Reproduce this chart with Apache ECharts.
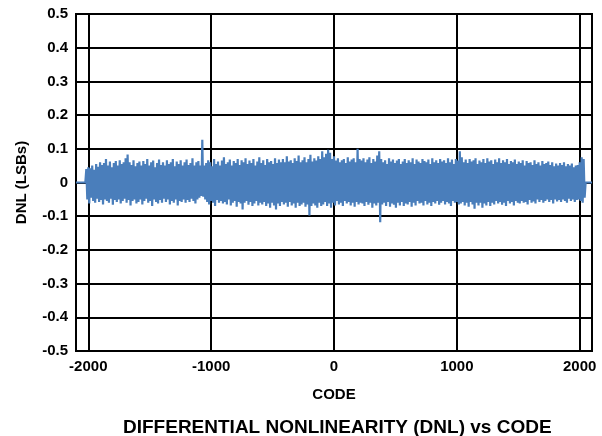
<!DOCTYPE html>
<html><head><meta charset="utf-8">
<script src="https://cdn.jsdelivr.net/npm/echarts@6/dist/echarts.min.js"></script>
<style>html,body{margin:0;padding:0;background:#fff}#c{width:602px;height:436px}</style>
</head><body><div id="c"></div>
<script>
// x tick labels (CODE)
const xTicks = [-2000, -1000, 0, 1000, 2000];
// DNL samples: alternating local maxima / minima along the code axis
const codeStart = -2016;
const codeStep = 16;
const dnlUpper = [
0.04,0.045,0.042,0.05,0.038,0.055,0.047,0.06,0.052,0.058,
0.07,0.05,0.062,0.045,0.058,0.064,0.05,0.066,0.055,0.06,
0.072,0.083,0.06,0.052,0.066,0.048,0.058,0.062,0.05,0.064,
0.055,0.07,0.05,0.06,0.065,0.045,0.058,0.068,0.052,0.06,
0.05,0.066,0.055,0.06,0.07,0.048,0.062,0.055,0.066,0.05,
0.06,0.068,0.052,0.058,0.072,0.05,0.06,0.064,0.05,0.127,
0.05,0.058,0.066,0.06,0.048,0.07,0.055,0.062,0.05,0.065,
0.075,0.055,0.06,0.068,0.05,0.064,0.058,0.07,0.052,0.066,
0.06,0.072,0.055,0.065,0.058,0.07,0.05,0.062,0.075,0.058,
0.066,0.052,0.07,0.06,0.064,0.055,0.072,0.058,0.068,0.06,
0.07,0.06,0.078,0.062,0.066,0.058,0.072,0.064,0.08,0.06,
0.066,0.075,0.06,0.07,0.082,0.062,0.072,0.065,0.078,0.07,
0.093,0.075,0.085,0.097,0.088,0.07,0.078,0.065,0.072,0.06,
0.066,0.07,0.058,0.075,0.062,0.068,0.072,0.06,0.1,0.07,
0.065,0.072,0.06,0.068,0.075,0.058,0.07,0.062,0.08,0.093,
0.07,0.06,0.066,0.055,0.072,0.062,0.068,0.058,0.065,0.07,
0.055,0.062,0.07,0.058,0.066,0.06,0.072,0.055,0.068,0.062,
0.058,0.07,0.064,0.06,0.068,0.055,0.072,0.06,0.066,0.058,
0.07,0.062,0.066,0.058,0.072,0.06,0.068,0.055,0.07,0.065,
0.093,0.075,0.06,0.068,0.058,0.07,0.062,0.066,0.072,0.055,
0.065,0.06,0.07,0.058,0.072,0.062,0.066,0.055,0.068,0.06,
0.072,0.058,0.066,0.06,0.07,0.055,0.064,0.06,0.068,0.055,
0.062,0.058,0.066,0.05,0.064,0.058,0.06,0.052,0.066,0.055,
0.06,0.05,0.064,0.055,0.058,0.062,0.052,0.06,0.048,0.056,
0.05,0.058,0.052,0.06,0.048,0.055,0.05,0.056,0.045,0.05,0.052,0.06,0.075,0.07
];
const dnlLower = [
-0.05,-0.062,-0.045,-0.055,-0.06,-0.048,-0.058,-0.052,-0.065,-0.05,
-0.055,-0.06,-0.048,-0.066,-0.052,-0.058,-0.05,-0.062,-0.055,-0.048,
-0.06,-0.052,-0.068,-0.055,-0.05,-0.062,-0.058,-0.05,-0.065,-0.055,
-0.048,-0.06,-0.055,-0.07,-0.05,-0.058,-0.062,-0.052,-0.06,-0.048,
-0.058,-0.05,-0.065,-0.055,-0.06,-0.05,-0.068,-0.055,-0.058,-0.05,
-0.06,-0.052,-0.058,-0.048,-0.055,-0.062,-0.05,-0.045,-0.04,-0.042,
-0.05,-0.058,-0.065,-0.055,-0.06,-0.07,-0.052,-0.06,-0.055,-0.062,
-0.058,-0.065,-0.05,-0.068,-0.06,-0.055,-0.072,-0.058,-0.062,-0.08,
-0.06,-0.055,-0.066,-0.058,-0.07,-0.062,-0.055,-0.068,-0.06,-0.065,
-0.058,-0.07,-0.062,-0.075,-0.06,-0.068,-0.08,-0.062,-0.07,-0.058,
-0.065,-0.06,-0.072,-0.058,-0.068,-0.062,-0.075,-0.06,-0.07,-0.065,
-0.06,-0.072,-0.065,-0.098,-0.07,-0.062,-0.068,-0.075,-0.06,-0.07,
-0.065,-0.058,-0.07,-0.062,-0.075,-0.06,-0.068,-0.055,-0.065,-0.06,
-0.07,-0.055,-0.062,-0.058,-0.068,-0.06,-0.072,-0.058,-0.065,-0.06,
-0.062,-0.07,-0.058,-0.066,-0.06,-0.075,-0.062,-0.068,-0.06,-0.118,
-0.065,-0.06,-0.07,-0.058,-0.072,-0.062,-0.066,-0.075,-0.06,-0.068,
-0.058,-0.07,-0.062,-0.065,-0.058,-0.072,-0.06,-0.068,-0.055,-0.062,
-0.06,-0.068,-0.055,-0.065,-0.06,-0.07,-0.058,-0.062,-0.055,-0.066,
-0.06,-0.055,-0.065,-0.058,-0.062,-0.07,-0.055,-0.06,-0.058,-0.065,
-0.062,-0.058,-0.068,-0.06,-0.072,-0.058,-0.065,-0.078,-0.06,-0.068,
-0.06,-0.075,-0.062,-0.068,-0.058,-0.07,-0.06,-0.065,-0.055,-0.062,
-0.058,-0.066,-0.06,-0.07,-0.055,-0.062,-0.058,-0.068,-0.055,-0.06,
-0.062,-0.055,-0.06,-0.058,-0.065,-0.052,-0.06,-0.056,-0.062,-0.05,
-0.058,-0.052,-0.06,-0.055,-0.05,-0.058,-0.052,-0.062,-0.05,-0.056,
-0.052,-0.058,-0.05,-0.055,-0.06,-0.048,-0.055,-0.05,-0.058,-0.052,-0.05,-0.055,-0.06,-0.045
];
// flat zero DNL at both ends of the trace
const leadCodes = [-2100, -2024];
const trailCodes = [2048, 2100];

const data = [];
leadCodes.forEach(c => data.push([c, 0]));
for (let i = 0; i < dnlUpper.length; i++) {
  data.push([codeStart + codeStep * i, dnlUpper[i]]);
  data.push([codeStart + codeStep * i + codeStep / 2, dnlLower[i]]);
}
trailCodes.forEach(c => data.push([c, 0]));

const FONT = "'Liberation Sans', Arial, sans-serif";
const chart = echarts.init(document.getElementById('c'), null, {renderer: 'canvas'});
chart.setOption({
  animation: false,
  backgroundColor: '#fff',
  title: {
    text: 'DIFFERENTIAL NONLINEARITY (DNL) vs CODE',
    left: 118, top: 413,
    textStyle: {fontFamily: FONT, fontWeight: 'bold', fontSize: 19, color: '#000'}
  },
  grid: {left: 76, right: 10, top: 14, bottom: 85, show: true, borderColor: '#000', borderWidth: 2},
  xAxis: {
    type: 'value', min: -2100, max: 2100,
    name: 'CODE', nameLocation: 'middle', nameGap: 36,
    nameTextStyle: {fontFamily: FONT, fontWeight: 'bold', fontSize: 15, color: '#000'},
    axisLine: {show: false},
    axisTick: {show: false, customValues: xTicks},
    axisLabel: {customValues: xTicks, margin: 8, formatter: v => String(v),
      fontFamily: FONT, fontWeight: 'bold', fontSize: 15, color: '#000'},
    splitLine: {show: true, lineStyle: {color: '#000', width: 2}}
  },
  yAxis: {
    type: 'value', min: -0.5, max: 0.5, interval: 0.1,
    name: 'DNL (LSBs)', nameLocation: 'middle', nameGap: 47,
    nameTextStyle: {fontFamily: FONT, fontWeight: 'bold', fontSize: 15, color: '#000'},
    axisLine: {show: false},
    axisTick: {show: false},
    axisLabel: {margin: 8, fontFamily: FONT, fontWeight: 'bold', fontSize: 15, color: '#000'},
    splitLine: {show: true, lineStyle: {color: '#000', width: 2}}
  },
  series: [{
    type: 'line', data: data, showSymbol: false, symbol: 'none',
    sampling: null,
    lineStyle: {color: '#4a7ebb', width: 2.2, join: 'bevel'},
    itemStyle: {color: '#4a7ebb'},
    z: 5
  }]
});
</script>
</body></html>
